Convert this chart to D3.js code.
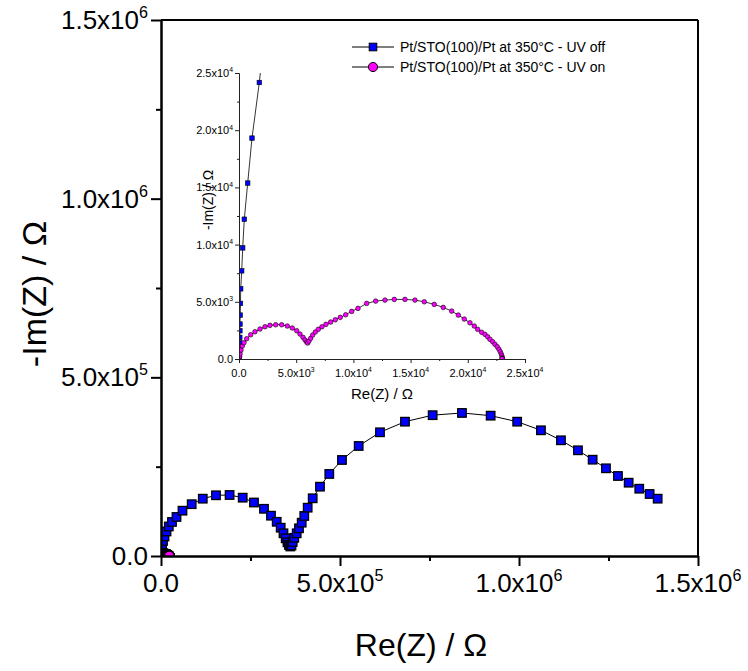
<!DOCTYPE html>
<html>
<head>
<meta charset="utf-8">
<script src="https://cdn.jsdelivr.net/npm/d3@7"></script>
<style>
  body { margin: 0; background: #fff; }
  svg { display: block; }
  text { font-family: Arial, "Liberation Sans", sans-serif; fill: #000; }
</style>
</head>
<body>
<svg id="chart" width="748" height="671"></svg>
<script>
// Impedance spectra, Pt/STO(100)/Pt at 350 °C (Nyquist representation)
const uvOffRe = [30, 40, 45, 55, 60, 65, 70, 80, 87, 105, 130, 150, 236, 323, 463, 760, 1136, 1775, 2500, 5600,
  9800, 15400, 21800, 30700, 43300, 60000, 85700, 116700, 153600, 191600, 228200, 259700, 287700, 307200, 323200,
  334300, 342100, 348300, 353300, 357500, 361100, 364500, 367800, 372300, 379000, 385400, 393000, 400200, 409700,
  423700, 444100, 470100, 505500, 552200, 611700, 681500, 758800, 840700, 920800, 994900, 1061300, 1117200,
  1164700, 1205700, 1242900, 1276400, 1306300, 1335900, 1364900, 1387300];
const uvOffIm = [87, 218, 436, 725, 1075, 1420, 1890, 2470, 3055, 3840, 4860, 6135, 7705, 9710, 12220, 15380,
  19310, 24170, 30800, 42000, 54600, 68600, 82600, 95200, 109200, 126800, 145000, 160400, 169900, 170700, 163200,
  149700, 132100, 112800, 95700, 79200, 63500, 49500, 38300, 30800, 26600, 29400, 39200, 50900, 63500, 77500,
  93200, 112000, 135200, 161500, 194000, 229600, 268700, 307900, 346200, 375900, 394100, 400300, 392700, 375900,
  351800, 323800, 295800, 269500, 245400, 223900, 205100, 188300, 173500, 160400];

const uvOnRe = [35, 52, 87, 175, 288, 437, 673, 1023, 1398, 1835, 2272, 2709, 3208, 3732, 4221, 4658, 5043, 5331,
  5594, 5768, 5917, 6004, 6118, 6267, 6441, 6669, 6931, 7254, 7604, 8015, 8417, 8854, 9326, 9850, 10401, 11161,
  11948, 12760, 13573, 14508, 15382, 16195, 17069, 17856, 18590, 19167, 19691, 20189, 20565, 20862, 21212, 21500,
  21736, 21937, 22173, 22374, 22575, 22724, 22838, 22926, 22986, 23012, 23020, 22990];
const uvOnIm = [87, 218, 436, 785, 1134, 1422, 1771, 2120, 2382, 2618, 2818, 2941, 2993, 2993, 2880, 2705, 2469,
  2182, 1894, 1658, 1483, 1396, 1571, 1806, 2094, 2356, 2592, 2818, 3028, 3229, 3429, 3639, 3866, 4162, 4424, 4860,
  5061, 5148, 5209, 5209, 5148, 5000, 4773, 4511, 4188, 3839, 3490, 3168, 2880, 2592, 2330, 2155, 1946, 1719, 1510,
  1283, 1073, 846, 637, 436, 262, 113, 44, 20];

const mainTicks = [0, 5e5, 1e6, 1.5e6];
const mainMinorTicks = [2.5e5, 7.5e5, 1.25e6];
const mainTickBase = ["0.0", "5.0x10", "1.0x10", "1.5x10"];
const mainTickExp = ["", "5", "6", "6"];

const insetTicks = [0, 5e3, 1e4, 1.5e4, 2e4, 2.5e4];
const insetMinorTicks = [2.5e3, 7.5e3, 1.25e4, 1.75e4, 2.25e4];
const insetTickBase = ["0.0", "5.0x10", "1.0x10", "1.5x10", "2.0x10", "2.5x10"];
const insetTickExp = ["", "3", "4", "4", "4", "4"];

const seriesNames = ["Pt/STO(100)/Pt at 350°C - UV off", "Pt/STO(100)/Pt at 350°C - UV on"];
const xTitle = "Re(Z) / Ω";
const yTitle = "-Im(Z) / Ω";

const offPts = uvOffRe.map((r, i) => [r, uvOffIm[i]]);
const onPts = uvOnRe.map((r, i) => [r, uvOnIm[i]]);

const svg = d3.select("#chart");
const defs = svg.append("defs");

// Main panel
const mx = d3.scaleLinear().domain([0, 1.5e6]).range([161, 698]);
const my = d3.scaleLinear().domain([0, 1.5e6]).range([556, 20]);

// Inset panel
const ix = d3.scaleLinear().domain([0, 2.5e4]).range([239, 525]);
const iy = d3.scaleLinear().domain([0, 2.5e4]).range([359, 73]);

defs.append("clipPath").attr("id", "clipMain").append("rect")
  .attr("x", mx(0)).attr("y", my(1.5e6)).attr("width", mx(1.5e6) - mx(0)).attr("height", my(0) - my(1.5e6));
defs.append("clipPath").attr("id", "clipInset").append("rect")
  .attr("x", ix(0)).attr("y", iy(2.5e4)).attr("width", ix(2.5e4) - ix(0)).attr("height", iy(0) - iy(2.5e4));

function labelWithExp(sel, base, exp, size) {
  sel.text(null);
  sel.append("tspan").text(base);
  if (exp) {
    sel.append("tspan").attr("dy", -size * 0.42).attr("font-size", size * 0.62).text(exp);
  }
}

function drawSeries(g, pts, sx, sy, shape, size, strokeW, lineW) {
  const line = d3.line().x(d => sx(d[0])).y(d => sy(d[1]));
  g.append("path").datum(pts).attr("d", line)
    .attr("fill", "none").attr("stroke", "#000").attr("stroke-width", lineW);
  if (shape === "square") {
    g.selectAll(null).data(pts).enter().append("rect")
      .attr("x", d => sx(d[0]) - size / 2).attr("y", d => sy(d[1]) - size / 2)
      .attr("width", size).attr("height", size)
      .attr("fill", "#0000ff").attr("stroke", "#000").attr("stroke-width", strokeW);
  } else {
    g.selectAll(null).data(pts).enter().append("circle")
      .attr("cx", d => sx(d[0])).attr("cy", d => sy(d[1])).attr("r", size / 2)
      .attr("fill", "#ff00ff").attr("stroke", "#000").attr("stroke-width", strokeW);
  }
}

// ---- main data
const mainData = svg.append("g").attr("clip-path", "url(#clipMain)");
drawSeries(mainData, offPts, mx, my, "square", 8.5, 1.3, 1);
drawSeries(mainData, onPts, mx, my, "circle", 10, 1.3, 1);

// ---- main axes
const mainAxisW = 2;
const gx = svg.append("g").attr("transform", `translate(0,${my(0)})`)
  .call(d3.axisBottom(mx).tickValues(mainTicks).tickSize(10).tickSizeOuter(0).tickFormat(""));
gx.append("g").call(d3.axisBottom(mx).tickValues(mainMinorTicks).tickSize(5).tickSizeOuter(0).tickFormat(""));
const gy = svg.append("g").attr("transform", `translate(${mx(0)},0)`)
  .call(d3.axisLeft(my).tickValues(mainTicks).tickSize(10).tickSizeOuter(0).tickFormat(""));
gy.append("g").call(d3.axisLeft(my).tickValues(mainMinorTicks).tickSize(5).tickSizeOuter(0).tickFormat(""));
[gx, gy].forEach(g => {
  g.selectAll("path.domain").attr("stroke", "#000").attr("stroke-width", mainAxisW);
  g.selectAll(".tick line").attr("stroke", "#000").attr("stroke-width", mainAxisW);
});
// frame top and right
svg.append("line").attr("x1", mx(0)).attr("x2", mx(1.5e6)).attr("y1", my(1.5e6)).attr("y2", my(1.5e6))
  .attr("stroke", "#000").attr("stroke-width", mainAxisW);
svg.append("line").attr("x1", mx(1.5e6)).attr("x2", mx(1.5e6)).attr("y1", my(1.5e6)).attr("y2", my(0))
  .attr("stroke", "#000").attr("stroke-width", mainAxisW);

const mainFont = 26;
svg.append("g").selectAll("text").data(mainTicks).enter().append("text")
  .attr("x", d => mx(d)).attr("y", my(0) + 36).attr("text-anchor", "middle").attr("font-size", mainFont)
  .each(function (d, i) { labelWithExp(d3.select(this), mainTickBase[i], mainTickExp[i], mainFont); });
svg.append("g").selectAll("text").data(mainTicks).enter().append("text")
  .attr("x", mx(0) - 13).attr("y", d => my(d) + 9).attr("text-anchor", "end").attr("font-size", mainFont)
  .each(function (d, i) { labelWithExp(d3.select(this), mainTickBase[i], mainTickExp[i], mainFont); });

svg.append("text").attr("x", 421).attr("y", 656).attr("text-anchor", "middle").attr("font-size", 32).text(xTitle);
svg.append("text").attr("transform", "translate(46,294) rotate(-90)").attr("text-anchor", "middle")
  .attr("font-size", 34).text(yTitle);

// ---- inset data
const insetData = svg.append("g").attr("clip-path", "url(#clipInset)");
drawSeries(insetData, offPts, ix, iy, "square", 4.5, 0.6, 0.8);
drawSeries(insetData, onPts, ix, iy, "circle", 4.6, 0.6, 0.8);

// ---- inset axes
const igx = svg.append("g").attr("transform", `translate(0,${iy(0)})`)
  .call(d3.axisBottom(ix).tickValues(insetTicks).tickSize(4).tickSizeOuter(0).tickFormat(""));
igx.append("g").call(d3.axisBottom(ix).tickValues(insetMinorTicks).tickSize(2).tickSizeOuter(0).tickFormat(""));
const igy = svg.append("g").attr("transform", `translate(${ix(0)},0)`)
  .call(d3.axisLeft(iy).tickValues(insetTicks).tickSize(4).tickSizeOuter(0).tickFormat(""));
igy.append("g").call(d3.axisLeft(iy).tickValues(insetMinorTicks).tickSize(2).tickSizeOuter(0).tickFormat(""));
[igx, igy].forEach(g => {
  g.selectAll("path.domain").attr("stroke", "#222").attr("stroke-width", 1);
  g.selectAll(".tick line").attr("stroke", "#222").attr("stroke-width", 1);
});

const insetFont = 11;
svg.append("g").selectAll("text").data(insetTicks).enter().append("text")
  .attr("x", d => ix(d)).attr("y", iy(0) + 18).attr("text-anchor", "middle").attr("font-size", insetFont)
  .each(function (d, i) { labelWithExp(d3.select(this), insetTickBase[i], insetTickExp[i], insetFont); });
svg.append("g").selectAll("text").data(insetTicks).enter().append("text")
  .attr("x", ix(0) - 6).attr("y", d => iy(d) + 4).attr("text-anchor", "end").attr("font-size", insetFont)
  .each(function (d, i) { labelWithExp(d3.select(this), insetTickBase[i], insetTickExp[i], insetFont); });

svg.append("text").attr("x", 382).attr("y", 399).attr("text-anchor", "middle").attr("font-size", 15).text(xTitle);
svg.append("text").attr("transform", "translate(213,200) rotate(-90)").attr("text-anchor", "middle")
  .attr("font-size", 14).text(yTitle);

// ---- legend
const legend = svg.append("g");
const legendY = [47, 67];
legendY.forEach((y, i) => {
  legend.append("line").attr("x1", 352).attr("x2", 394).attr("y1", y).attr("y2", y)
    .attr("stroke", "#000").attr("stroke-width", 1);
  if (i === 0) {
    legend.append("rect").attr("x", 373 - 3.8).attr("y", y - 3.8).attr("width", 7.6).attr("height", 7.6)
      .attr("fill", "#0000ff").attr("stroke", "#000").attr("stroke-width", 1);
  } else {
    legend.append("circle").attr("cx", 373).attr("cy", y).attr("r", 4.6)
      .attr("fill", "#ff00ff").attr("stroke", "#000").attr("stroke-width", 1);
  }
  legend.append("text").attr("x", 400).attr("y", y + 5).attr("font-size", 14).text(seriesNames[i]);
});
</script>
</body>
</html>
